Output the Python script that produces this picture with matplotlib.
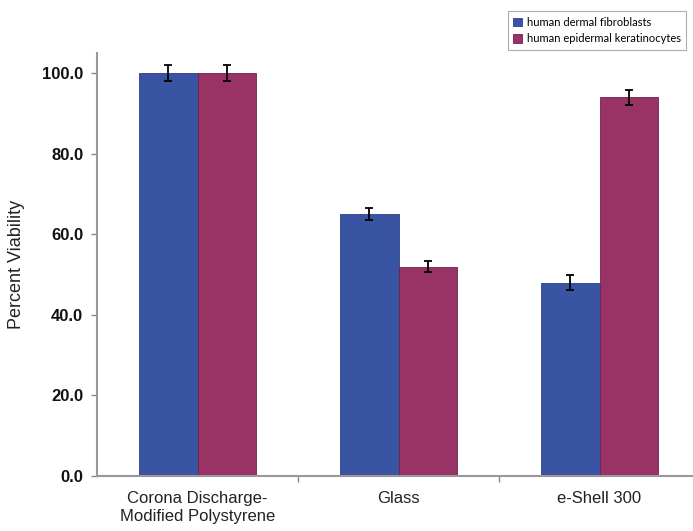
import numpy as np
import matplotlib.pyplot as plt

# data
categories = ['Corona Discharge-\nModified Polystyrene', 'Glass', 'e-Shell 300']
fibroblasts = [100.0, 65.0, 48.0]
fibroblasts_err = [2.0, 1.5, 1.8]
keratinocytes = [100.0, 52.0, 94.0]
keratinocytes_err = [2.0, 1.4, 1.8]
series_names = ['human dermal fibroblasts', 'human epidermal keratinocytes']
yticks = [0, 20, 40, 60, 80, 100]

blue = '#3a54a4'
maroon = '#993366'

plt.rcParams['font.family'] = ['Liberation Sans', 'DejaVu Sans']

fig = plt.figure(figsize=(6.93, 5.31), dpi=100)
ax = fig.add_axes([0.140, 0.1036, 0.86, 0.7964])

x = np.arange(len(categories))
w = 0.29
errkw = dict(ecolor='black', elinewidth=1.3, capsize=3, capthick=1.3)
b1 = ax.bar(x - w / 2, fibroblasts, w, yerr=fibroblasts_err, color=blue,
            edgecolor='#2c3f80', linewidth=0.6, error_kw=errkw,
            label=series_names[0])
b2 = ax.bar(x + w / 2, keratinocytes, w, yerr=keratinocytes_err, color=maroon,
            edgecolor='#6e2449', linewidth=0.6, error_kw=errkw,
            label=series_names[1])

ax.set_xlim(-0.5, 2.465)
ax.set_ylim(0, 105)
ax.set_yticks(yticks)
ax.set_yticklabels([f'{v:.1f}' for v in yticks], fontsize=12, fontweight='bold',
                   color='#111111')

# x ticks sit between the groups, labels centred on the groups
ax.set_xticks([0.5, 1.5])
ax.set_xticklabels([])
ax.set_xticks(x, minor=True)
ax.set_xticklabels(categories, minor=True, fontsize=12, color='#222222')
ax.tick_params(axis='x', which='minor', length=0, pad=11)
ax.tick_params(axis='x', which='major', length=4, color='#888888', width=1)
ax.tick_params(axis='y', length=4, color='#888888', width=1, pad=6)

for s in ['top', 'right']:
    ax.spines[s].set_visible(False)
for s in ['left', 'bottom']:
    ax.spines[s].set_color('#999999')
    ax.spines[s].set_linewidth(1.5)

ax.set_ylabel('Percent Viability', fontsize=13, labelpad=12, color='#222222')

leg = fig.legend(handles=[b1, b2], loc='upper right',
                 bbox_to_anchor=(0.995, 0.985),
                 prop={'family': ['Lato', 'DejaVu Sans'], 'size': 8},
                 frameon=True, fancybox=False, edgecolor='#999999',
                 handlelength=0.8, handleheight=0.8, handletextpad=0.4,
                 borderpad=0.5, labelspacing=0.5, borderaxespad=0.3)
leg.get_frame().set_linewidth(0.8)

fig.savefig('out.png', dpi=100)
